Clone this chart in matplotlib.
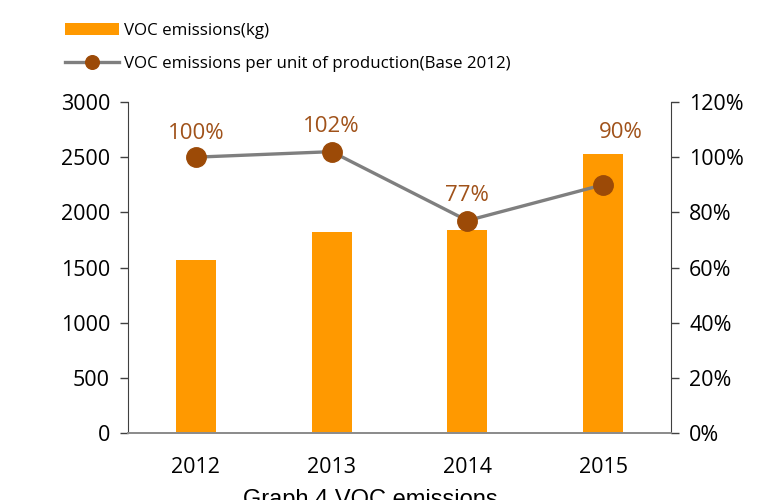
import matplotlib.pyplot as plt
from matplotlib.ticker import FuncFormatter

years = ['2012', '2013', '2014', '2015']
voc_kg = [1570, 1822, 1840, 2525]
voc_ratio = [100, 102, 77, 90]
ratio_labels = ['100%', '102%', '77%', '90%']

plt.rcParams['font.family'] = ['Open Sans', 'DejaVu Sans']

fig = plt.figure(figsize=(7.62, 5.0), dpi=100)
ax = fig.add_axes([128 / 762, 1 - 433 / 500, 543 / 762, 331 / 500])
ax2 = ax.twinx()

x = range(len(years))
bars = ax.bar(x, voc_kg, width=0.295, color='#FF9900', zorder=2,
              label='VOC emissions(kg)')
line, = ax2.plot(x, voc_ratio, color='#7F7F7F', lw=2.4, marker='o',
                 markersize=14, markerfacecolor='#9C4A07',
                 markeredgecolor='#9C4A07', zorder=3,
                 label='VOC emissions per unit of production(Base 2012)')

# label offsets (pixels) - the 2015 one sits to the right
offs = [(0, 24), (0, 25), (0, 25), (18, 52)]
for i, (v, t) in enumerate(zip(voc_ratio, ratio_labels)):
    ax2.annotate(t, (i, v), xytext=offs[i], textcoords='offset pixels',
                 ha='center', va='center', color='#A0521A', fontsize=16)

ax.set_xlim(-0.5, 3.5)
ax.set_ylim(0, 3000)
ax.set_yticks(range(0, 3001, 500))
ax2.set_ylim(0, 120)
ax2.set_yticks(range(0, 121, 20))
ax2.yaxis.set_major_formatter(FuncFormatter(lambda v, p: f'{v:.0f}%'))

ax.set_xticks(list(x))
ax.set_xticklabels(years)

for a in (ax, ax2):
    a.spines['top'].set_visible(False)
    a.spines['bottom'].set_color('#8C8C8C')
    a.spines['bottom'].set_linewidth(1.3)
    a.spines['left'].set_color('#404040')
    a.spines['right'].set_color('#404040')
    a.tick_params(axis='y', labelsize=15.5, length=6, width=1, color='#404040',
                  pad=7)
ax.tick_params(axis='x', length=0, labelsize=15.5, pad=17)
ax.spines['right'].set_visible(False)
ax2.spines['left'].set_visible(False)

fig.legend(handles=[bars, line], loc='upper left',
           bbox_to_anchor=(58 / 762, 1 - 16 / 500), frameon=False,
           fontsize=12.2, handlelength=3.2, handleheight=0.7,
           labelspacing=1.0, handletextpad=0.3, borderaxespad=0,
           markerscale=0.7)

fig.text(370 / 762, 1 - 489 / 500, 'Graph 4 VOC emissions', ha='center',
         va='top', fontsize=17, family=['Liberation Sans', 'DejaVu Sans'])

fig.savefig('out.png', dpi=100)
